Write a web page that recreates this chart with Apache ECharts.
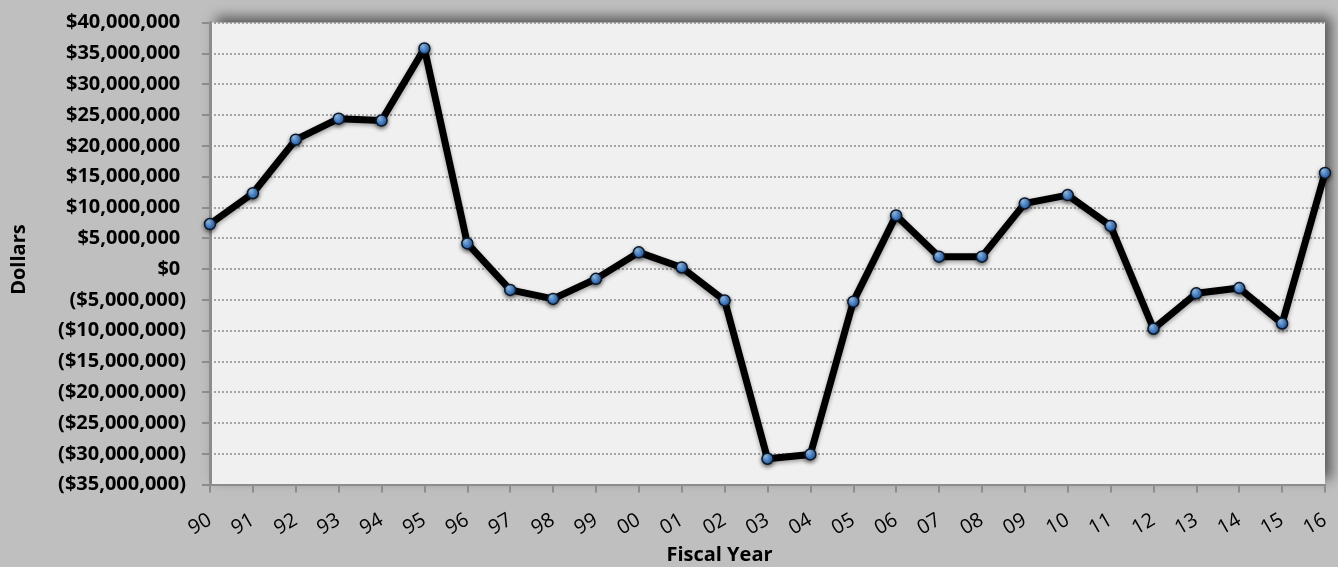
<!DOCTYPE html>
<html>
<head>
<meta charset="utf-8">
<script src="https://cdn.jsdelivr.net/npm/echarts@6/dist/echarts.min.js"></script>
<style>
  html, body { margin: 0; padding: 0; background: #bfbfbf; }
  #chart { width: 1338px; height: 567px; }
</style>
</head>
<body>
<div id="chart"></div>
<script>
// Fiscal years (two-digit labels) and the yearly dollar change
const fiscalYears = ['90','91','92','93','94','95','96','97','98','99','00','01','02',
                     '03','04','05','06','07','08','09','10','11','12','13','14','15','16'];
const dollarChange = [7300000, 12300000, 21000000, 24400000, 24100000, 35800000,
                      4150000, -3400000, -4850000, -1600000, 2700000, 250000, -5100000,
                      -30800000, -30100000, -5300000, 8700000, 2000000, 2000000,
                      10650000, 12000000, 7000000, -9700000, -3950000, -3100000,
                      -8850000, 15600000];

// Value axis range and step
const yMin = -35000000;
const yMax = 40000000;
const yStep = 5000000;

const axisTitleX = 'Fiscal Year';
const axisTitleY = 'Dollars';

function money(v) {
  const s = '$' + Math.abs(v).toLocaleString('en-US');
  return v < 0 ? '(' + s + ')' : s + '\u2008';
}

const FONT = '"Open Sans", "Noto Sans", "DejaVu Sans", sans-serif';

const chart = echarts.init(document.getElementById('chart'), null, { renderer: 'canvas' });

chart.setOption({
  backgroundColor: '#bfbfbf',
  animation: false,
  grid: {
    left: 210, right: 13, top: 22.6, bottom: 82.4,
    outerBoundsMode: 'none',
    containLabel: false,
    show: true,
    backgroundColor: '#f0f0f0',
    borderWidth: 0,
    shadowColor: 'rgba(0,0,0,0.55)',
    shadowBlur: 12,
    shadowOffsetX: 6,
    shadowOffsetY: -6
  },
  xAxis: {
    type: 'category',
    data: fiscalYears,
    boundaryGap: false,
    name: axisTitleX,
    nameLocation: 'middle',
    nameGap: 57,
    nameTextStyle: {
      fontFamily: FONT, fontWeight: 'bold', fontSize: 20, color: '#000',
      padding: [0, 96, 0, 0]
    },
    axisLine: { show: true, onZero: false, lineStyle: { color: '#8c8c8c', width: 2 } },
    axisTick: { show: true, inside: false, length: 8, alignWithLabel: true,
                lineStyle: { color: '#8c8c8c', width: 2 } },
    axisLabel: {
      interval: 0, rotate: 30, margin: 34,
      fontFamily: FONT, fontSize: 20, color: '#000'
    },
    splitLine: { show: false }
  },
  yAxis: {
    type: 'value',
    min: yMin, max: yMax, interval: yStep,
    name: axisTitleY,
    nameLocation: 'middle',
    nameGap: 181,
    nameRotate: 90,
    nameTextStyle: {
      fontFamily: FONT, fontWeight: 'bold', fontSize: 20, color: '#000',
      padding: [0, 12, 0, 0]
    },
    axisLine: { show: true, lineStyle: { color: '#8c8c8c', width: 3 } },
    axisTick: { show: true, inside: false, length: 8,
                lineStyle: { color: '#8c8c8c', width: 2 } },
    axisLabel: {
      margin: 24,
      fontFamily: FONT, fontWeight: 'bold', fontSize: 20, color: '#000',
      formatter: money
    },
    splitLine: {
      show: true,
      lineStyle: { color: '#8a8a8a', width: 1.5, type: [2, 2] }
    }
  },
  series: [{
    type: 'line',
    data: dollarChange,
    symbol: 'circle',
    symbolSize: 11,
    showAllSymbol: true,
    lineStyle: {
      color: '#000', width: 7, cap: 'round', join: 'round',
      shadowColor: 'rgba(0,0,0,0.35)', shadowBlur: 4, shadowOffsetY: 2
    },
    itemStyle: {
      color: new echarts.graphic.RadialGradient(0.35, 0.3, 0.8, [
        { offset: 0, color: '#a9d0f5' },
        { offset: 0.45, color: '#4f8bd4' },
        { offset: 1, color: '#1f4f8e' }
      ]),
      borderColor: '#0b1626',
      borderWidth: 1.5,
      shadowColor: 'rgba(0,0,0,0.5)',
      shadowBlur: 4,
      shadowOffsetY: 2
    },
    z: 3
  }]
});
</script>
</body>
</html>
